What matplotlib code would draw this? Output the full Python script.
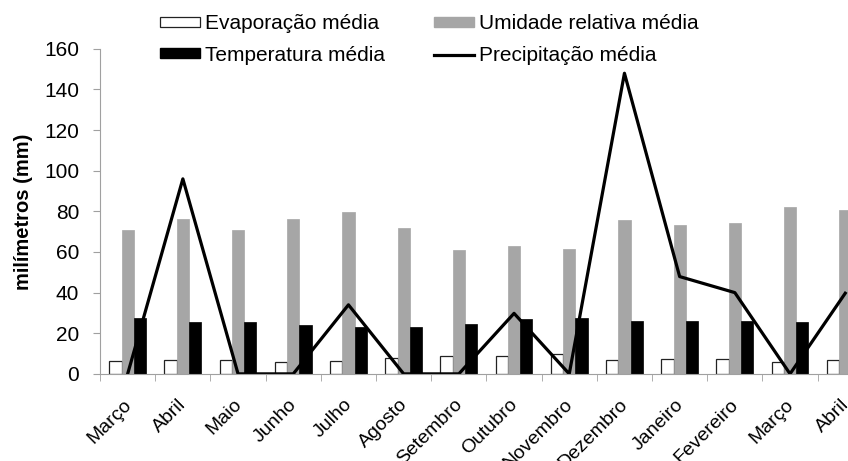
import numpy as np
import matplotlib.pyplot as plt
import matplotlib.transforms as mtransforms
from matplotlib.patches import Patch
from matplotlib.lines import Line2D

plt.rcParams['font.family'] = ['Liberation Sans', 'DejaVu Sans']

meses = ['Março', 'Abril', 'Maio', 'Junho', 'Julho', 'Agosto', 'Setembro',
         'Outubro', 'Novembro', 'Dezembro', 'Janeiro', 'Fevereiro', 'Março', 'Abril']

evaporacao = [6.1, 6.6, 7.0, 5.7, 6.1, 7.7, 8.7, 8.7, 9.7, 6.9, 7.4, 7.4, 5.9, 6.9]
umidade = [71.0, 76.3, 70.6, 76.3, 79.9, 71.9, 60.9, 63.0, 61.4, 75.8, 73.2, 74.5, 82.0, 80.7]
temperatura = [27.4, 25.6, 25.6, 23.9, 23.0, 23.0, 24.6, 26.9, 27.7, 25.9, 25.9, 25.9, 25.4, 25.4]
precipitacao = [0, 96, 0, 0, 34, 0, 0, 29.8, 0, 148, 47.9, 40, 0, 39.7]

x = np.arange(len(meses))
w = 0.222

fig = plt.figure(figsize=(8.48, 4.61), dpi=100)
ax = fig.add_axes([0.118, 0.189, 0.882, 0.705])

ax.bar(x - w, evaporacao, w, color='white', edgecolor='#222222', linewidth=0.9)
ax.bar(x, umidade, w, color='#a6a6a6', edgecolor='#a6a6a6', linewidth=0.5)
ax.bar(x + w, temperatura, w, color='black', edgecolor='black', linewidth=0.5)
ax.plot(x, precipitacao, color='black', linewidth=2.3)

ax.set_xlim(-0.5, 13.05)
ax.set_ylim(0, 160)
ax.set_yticks(range(0, 161, 20))
ax.set_ylabel('milímetros (mm)', fontsize=14.5, fontweight='bold', labelpad=8)

ax.set_xticks(x)
ax.set_xticklabels(meses, rotation=45, ha='right', rotation_mode='anchor', fontsize=14)
ax.set_xticks(np.arange(-0.5, 13.5, 1), minor=True)
ax.tick_params(axis='x', which='major', length=0, pad=16)
ax.tick_params(axis='x', which='minor', length=5, color='#a0a0a0', direction='out')
ax.tick_params(axis='y', length=5, color='#a0a0a0', labelsize=15, pad=10)

# nudge the rotated month names a bit to the left
shift = mtransforms.ScaledTranslation(-5 / 100, 0, fig.dpi_scale_trans)
for lbl in ax.get_xticklabels():
    lbl.set_transform(lbl.get_transform() + shift)

for s in ['top', 'right']:
    ax.spines[s].set_visible(False)
for s in ['left', 'bottom']:
    ax.spines[s].set_color('#a0a0a0')

handles = [
    Patch(facecolor='white', edgecolor='#222222', linewidth=0.9, label='Evaporação média'),
    Patch(facecolor='black', edgecolor='black', label='Temperatura média'),
    Patch(facecolor='#a6a6a6', edgecolor='#a6a6a6', label='Umidade relativa média'),
    Line2D([0], [0], color='black', linewidth=2.3, label='Precipitação média'),
]
fig.legend(handles=handles, ncol=2, loc='upper left', bbox_to_anchor=(160 / 848, 0.969),
           frameon=False, fontsize=15, handlelength=1.92, handleheight=0.34,
           handletextpad=0.24, columnspacing=2.35, labelspacing=0.6,
           borderpad=0, borderaxespad=0)

fig.savefig('out.png', dpi=100)
